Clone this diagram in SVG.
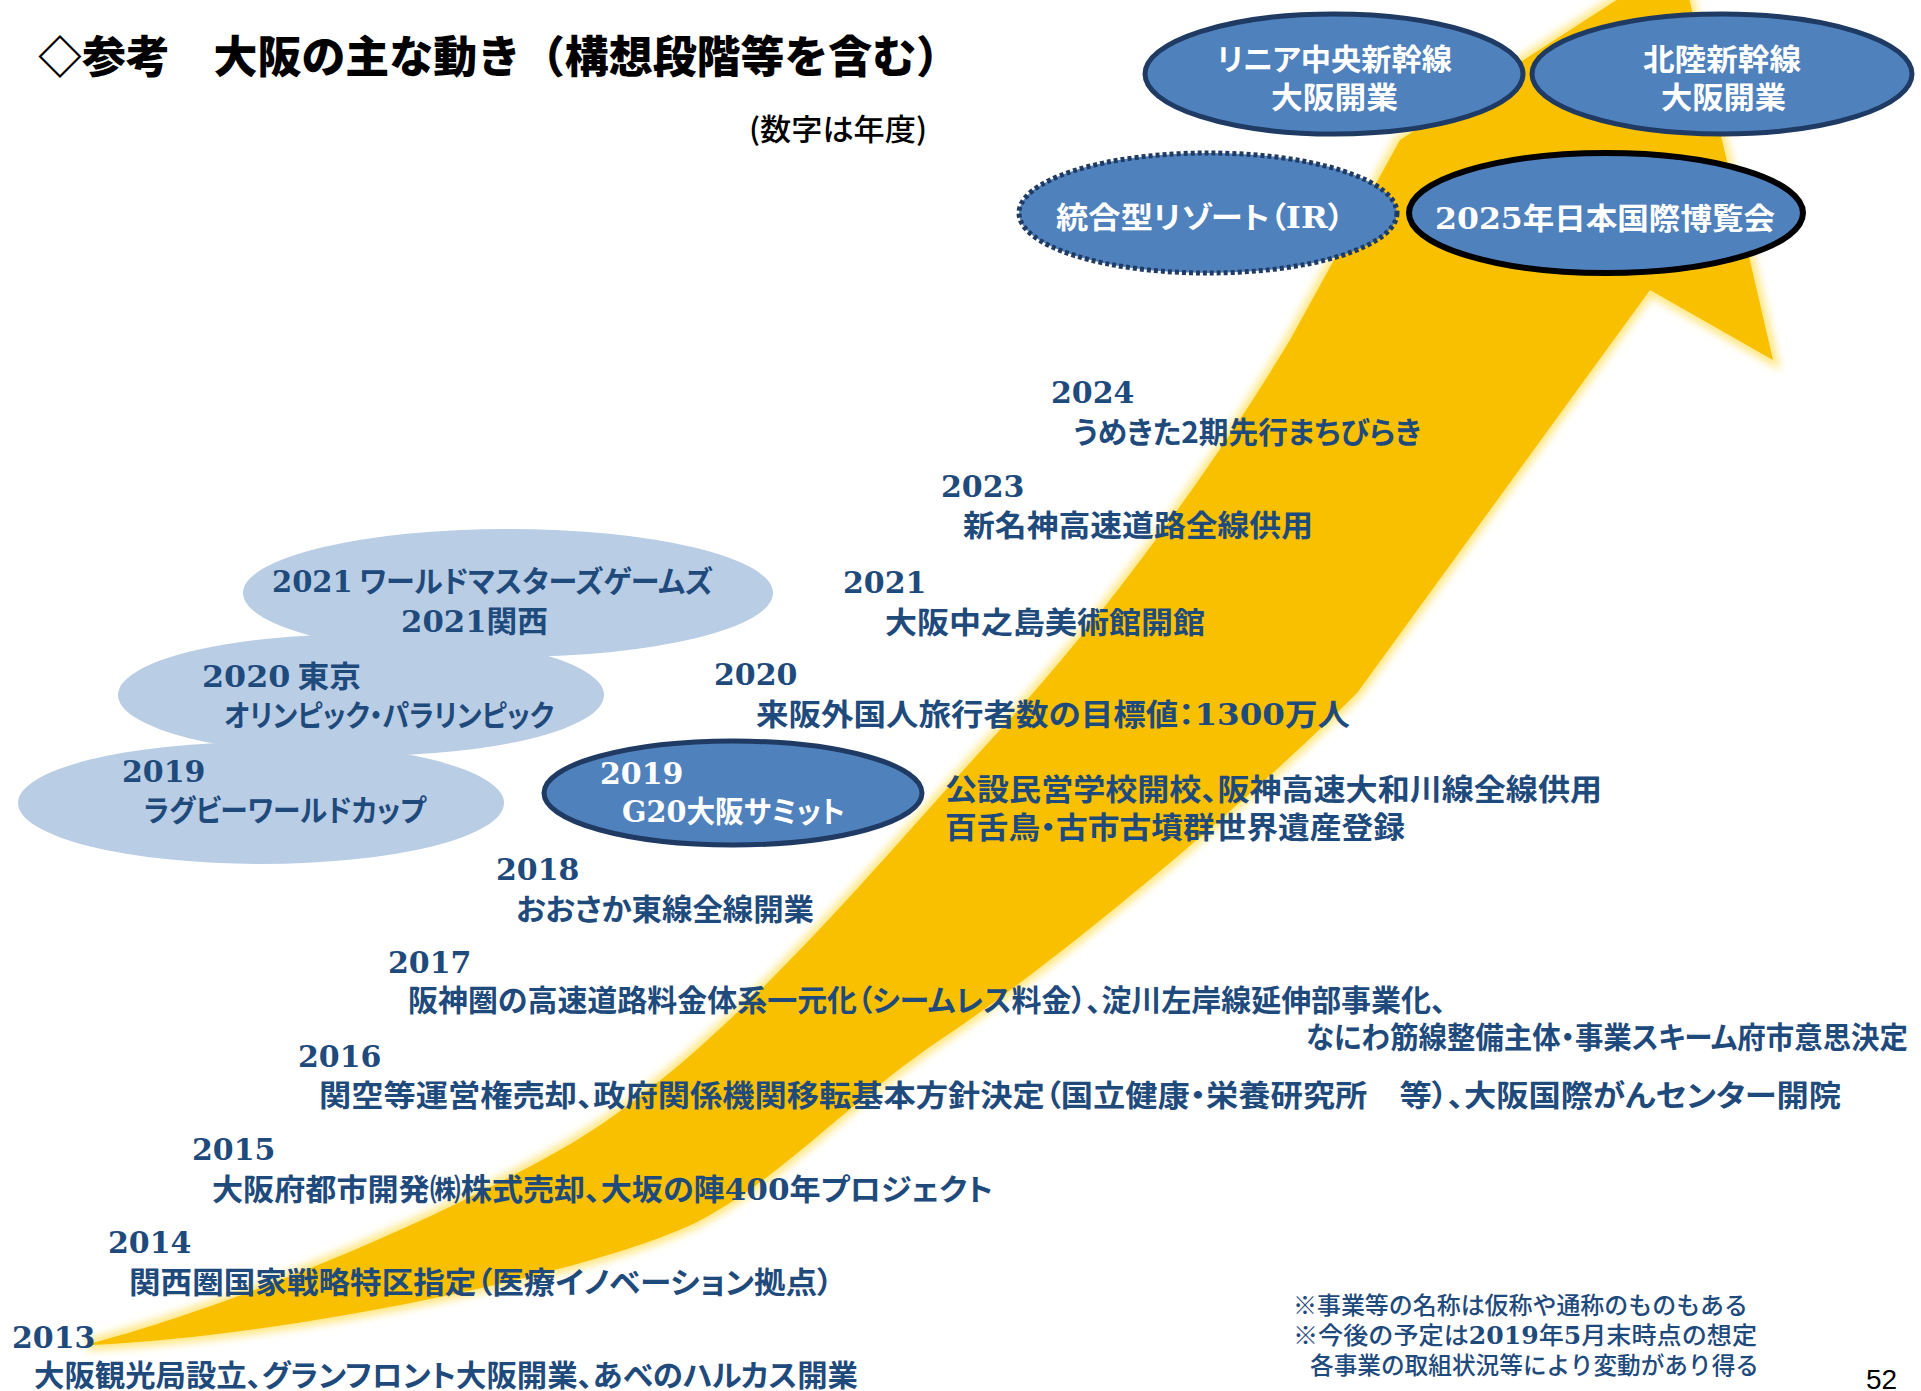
<svg xmlns="http://www.w3.org/2000/svg" width="1921" height="1391" viewBox="0 0 1921 1391">
<defs>
<style>
.lbl{font-family:"Noto Sans CJK JP","Noto Sans CJK SC",sans-serif;font-weight:700;font-size:30px;fill:#1F4A7C;font-feature-settings:"palt";}
.yr{font-family:"DejaVu Serif","Liberation Serif",serif;font-weight:700;font-size:30px;fill:#1F4A7C;}
.sn{font-family:"DejaVu Serif","Liberation Serif",serif;font-weight:700;}
.wt{fill:#FFFFFF;}
.note{font-family:"Noto Sans CJK JP",sans-serif;font-weight:500;font-size:24px;fill:#1F4A7C;}
.lt{fill:#B9CDE5;}
.dk{fill:#4F81BD;stroke:#1F3A63;stroke-width:5;}
</style>
<filter id="glow" x="-5%" y="-5%" width="110%" height="110%">
<feGaussianBlur stdDeviation="4"/>
</filter>
</defs>
<rect x="0" y="0" width="1921" height="1391" fill="#FFFFFF"/>

<g id="connectors">
<path id="arrow-glow" d="M 92,1343 C 200,1315 400,1240 560,1150 C 720,1060 880,860 1000,730 C 1120,600 1230,440 1290,340 L 1400,140 L 1680,-41 L 1773,360 L 1650,290 L 1357,693 C 1250,800 1060,960 940,1040 C 850,1100 780,1180 697,1222 C 600,1270 300,1335 92,1345 Z" fill="#FFE680" stroke="#FFE680" stroke-width="10" filter="url(#glow)"/>
<path id="arrow" d="M 92,1343 C 200,1315 400,1240 560,1150 C 720,1060 880,860 1000,730 C 1120,600 1230,440 1290,340 L 1400,140 L 1680,-41 L 1773,360 L 1650,290 L 1357,693 C 1250,800 1060,960 940,1040 C 850,1100 780,1180 697,1222 C 600,1270 300,1335 92,1345 Z" fill="#F9C000"/>
</g>

<g id="title">
<text x="38" y="73" font-family="Noto Sans CJK JP, sans-serif" font-weight="900" font-size="44" fill="#000000" textLength="922" lengthAdjust="spacingAndGlyphs">◇参考　大阪の主な動き（構想段階等を含む）</text>
<text x="749" y="140" font-family="Noto Sans CJK JP, sans-serif" font-weight="500" font-size="30" fill="#000000" textLength="178" lengthAdjust="spacingAndGlyphs">(数字は年度)</text>
</g>

<g id="node-linear">
<ellipse class="dk" cx="1334" cy="74" rx="189" ry="60"/>
<text class="lbl wt" x="1217" y="70" textLength="235" lengthAdjust="spacingAndGlyphs">リニア中央新幹線</text>
<text class="lbl wt" x="1271" y="108" textLength="127" lengthAdjust="spacingAndGlyphs">大阪開業</text>
</g>

<g id="node-hokuriku">
<ellipse class="dk" cx="1722" cy="74" rx="190" ry="60"/>
<text class="lbl wt" x="1643" y="70" textLength="158" lengthAdjust="spacingAndGlyphs">北陸新幹線</text>
<text class="lbl wt" x="1661" y="108" textLength="125" lengthAdjust="spacingAndGlyphs">大阪開業</text>
</g>

<g id="node-ir">
<ellipse cx="1208" cy="213" rx="189" ry="60" fill="#4F81BD" stroke="#1F3A63" stroke-width="5" stroke-dasharray="4 3"/>
<text class="lbl wt" x="1056" y="228" textLength="288" lengthAdjust="spacingAndGlyphs">統合型リゾート（<tspan class="sn">IR</tspan>）</text>
</g>

<g id="node-expo">
<ellipse cx="1606" cy="213" rx="197" ry="60" fill="#4F81BD" stroke="#000000" stroke-width="6"/>
<text class="lbl wt" x="1435" y="229" textLength="340" lengthAdjust="spacingAndGlyphs"><tspan class="sn">2025</tspan>年日本国際博覧会</text>
</g>

<g id="node-2021-wmg">
<ellipse class="lt" cx="508" cy="593" rx="265" ry="64"/>
</g>
<g id="node-2020-tokyo">
<ellipse class="lt" cx="361" cy="695" rx="243" ry="61"/>
</g>
<g id="node-2019-rugby">
<ellipse class="lt" cx="261" cy="803" rx="243" ry="61"/>
</g>
<g id="labels-light">
<text class="lbl" x="272" y="592" textLength="441" lengthAdjust="spacingAndGlyphs"><tspan class="sn">2021</tspan> ワールドマスターズゲームズ</text>
<text class="lbl" x="401" y="632" textLength="147" lengthAdjust="spacingAndGlyphs"><tspan class="sn">2021</tspan>関西</text>
<text class="lbl" x="202" y="687" textLength="159" lengthAdjust="spacingAndGlyphs"><tspan class="sn">2020</tspan> 東京</text>
<text class="lbl" x="224" y="726" textLength="330" lengthAdjust="spacingAndGlyphs">オリンピック・パラリンピック</text>
<text class="yr" x="122" y="782">2019</text>
<text class="lbl" x="144" y="821" textLength="282" lengthAdjust="spacingAndGlyphs">ラグビーワールドカップ</text>
</g>

<g id="node-g20">
<ellipse class="dk" cx="733" cy="793" rx="189" ry="52"/>
<text class="yr wt" x="600" y="784">2019</text>
<text class="lbl wt" x="622" y="822" textLength="223" lengthAdjust="spacingAndGlyphs"><tspan class="sn">G20</tspan>大阪サミット</text>
</g>

<g id="y2024">
<text class="yr" x="1051" y="403">2024</text>
<text class="lbl" x="1073" y="443" textLength="348" lengthAdjust="spacingAndGlyphs">うめきた2期先行まちびらき</text>
</g>
<g id="y2023">
<text class="yr" x="941" y="497">2023</text>
<text class="lbl" x="963" y="536" textLength="350" lengthAdjust="spacingAndGlyphs">新名神高速道路全線供用</text>
</g>
<g id="y2021">
<text class="yr" x="843" y="593">2021</text>
<text class="lbl" x="885" y="633" textLength="320" lengthAdjust="spacingAndGlyphs">大阪中之島美術館開館</text>
</g>
<g id="y2020">
<text class="yr" x="714" y="685">2020</text>
<text class="lbl" x="756" y="725" textLength="594" lengthAdjust="spacingAndGlyphs">来阪外国人旅行者数の目標値：<tspan class="sn">1300</tspan>万人</text>
</g>
<g id="y2019">
<text class="lbl" x="945" y="800" textLength="657" lengthAdjust="spacingAndGlyphs">公設民営学校開校、阪神高速大和川線全線供用</text>
<text class="lbl" x="945" y="838" textLength="460" lengthAdjust="spacingAndGlyphs">百舌鳥・古市古墳群世界遺産登録</text>
</g>
<g id="y2018">
<text class="yr" x="496" y="880">2018</text>
<text class="lbl" x="516" y="920" textLength="298" lengthAdjust="spacingAndGlyphs">おおさか東線全線開業</text>
</g>
<g id="y2017">
<text class="yr" x="388" y="973">2017</text>
<text class="lbl" x="408" y="1011" textLength="1038" lengthAdjust="spacingAndGlyphs">阪神圏の高速道路料金体系一元化（シームレス料金）、淀川左岸線延伸部事業化、</text>
<text class="lbl" x="1306" y="1048" textLength="602" lengthAdjust="spacingAndGlyphs">なにわ筋線整備主体・事業スキーム府市意思決定</text>
</g>
<g id="y2016">
<text class="yr" x="298" y="1067">2016</text>
<text class="lbl" x="319" y="1106" textLength="1522" lengthAdjust="spacingAndGlyphs">関空等運営権売却、政府関係機関移転基本方針決定（国立健康・栄養研究所　等）、大阪国際がんセンター開院</text>
</g>
<g id="y2015">
<text class="yr" x="192" y="1160">2015</text>
<text class="lbl" x="212" y="1200" textLength="781" lengthAdjust="spacingAndGlyphs">大阪府都市開発㈱株式売却、大坂の陣<tspan class="sn">400</tspan>年プロジェクト</text>
</g>
<g id="y2014">
<text class="yr" x="108" y="1253">2014</text>
<text class="lbl" x="129" y="1293" textLength="704" lengthAdjust="spacingAndGlyphs">関西圏国家戦略特区指定（医療イノベーション拠点）</text>
</g>
<g id="y2013">
<text class="yr" x="12" y="1348">2013</text>
<text class="lbl" x="34" y="1386" textLength="824" lengthAdjust="spacingAndGlyphs">大阪観光局設立、グランフロント大阪開業、あべのハルカス開業</text>
</g>

<g id="notes">
<text class="note" x="1293" y="1314" textLength="455" lengthAdjust="spacingAndGlyphs">※事業等の名称は仮称や通称のものもある</text>
<text class="note" x="1293" y="1344" textLength="464" lengthAdjust="spacingAndGlyphs">※今後の予定は<tspan class="sn">2019</tspan>年<tspan class="sn">5</tspan>月末時点の想定</text>
<text class="note" x="1310" y="1374" textLength="449" lengthAdjust="spacingAndGlyphs">各事業の取組状況等により変動があり得る</text>
<text x="1866" y="1389" font-family="Liberation Sans, Arial, sans-serif" font-size="28" fill="#000000">52</text>
</g>
</svg>
